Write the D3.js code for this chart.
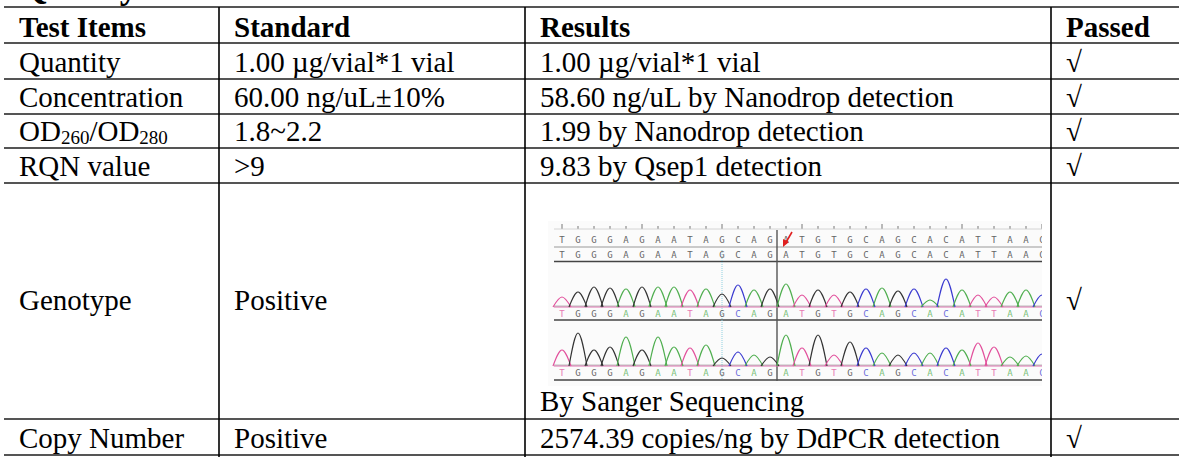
<!DOCTYPE html>
<html>
<head>
<meta charset="utf-8">
<script src="https://cdn.jsdelivr.net/npm/d3@7"></script>
<style>
  body { margin: 0; background: #fff; }
  svg { display: block; font-family: "Liberation Serif", "Times New Roman", serif; }
</style>
</head>
<body>
<svg id="chart" width="1179" height="457"></svg>
<script>
// table content
var headers = ["Test Items", "Standard", "Results", "Passed"];
var items = ["Quantity", "Concentration", "OD260/OD280", "RQN value", "Genotype", "Copy Number"];
var standards = ["1.00 µg/vial*1 vial", "60.00 ng/uL±10%", "1.8~2.2", ">9", "Positive", "Positive"];
var results = ["1.00 µg/vial*1 vial", "58.60 ng/uL by Nanodrop detection", "1.99 by Nanodrop detection",
  "9.83 by Qsep1 detection", "By Sanger Sequencing", "2574.39 copies/ng by DdPCR detection"];
var passed = ["√", "√", "√", "√", "√", "√"];

// sanger chromatogram (bases + peak heights)
var bases = "TGGGAGAATAGCAGATGTGCAGCACATTAAC".split("");
var trace1 = [10, 15, 20, 19, 18, 20, 20, 20, 17, 18, 13, 22, 17, 18, 23, 12, 17, 12, 15, 18, 19, 16, 18, 7, 28, 17, 12, 10, 15, 17, 12];
var trace2 = [16, 33, 16, 19, 29, 16, 29, 19, 18, 21, 8, 14, 11, 9, 31, 18, 31, 11, 24, 18, 13, 11, 13, 13, 18, 16, 23, 19, 9, 10, 12];
var mutationIndex = 14;

// layout
var colEdges = [4, 219, 525, 1051, 1179];
var rowEdges = [7, 43, 79, 114, 148, 183, 419, 455];
var padX = 15;
var fontSize = 29;

var baseColors = { A: "#4fae4f", C: "#3a3ad0", G: "#333333", T: "#e2509c" };

var svg = d3.select("#chart");

// title, cut by the top edge
svg.append("text")
  .attr("x", 19).attr("y", -2)
  .attr("font-size", 37).attr("font-weight", "bold")
  .text("Quality Control");

// cell text helper: digits after "OD" become subscripts
function addText(sel, str) {
  var parts = str.split(/(OD)(\d+)/);
  if (parts.length === 1) { sel.text(str); return; }
  var sub = false;
  parts.forEach(function (p, i) {
    if (p === "") return;
    if (/^\d+$/.test(p) && parts[i - 1] === "OD") {
      sel.append("tspan").attr("font-size", 19).attr("dy", 3).text(p);
      sub = true;
    } else {
      sel.append("tspan").attr("dy", sub ? -3 : 0).text(p);
      sub = false;
    }
  });
}

var columns = [items, standards, results, passed];

// header row
svg.selectAll("text.head")
  .data(headers)
  .join("text")
  .attr("class", "head")
  .attr("x", function (d, i) { return colEdges[i] + padX; })
  .attr("y", rowEdges[1] - 6)
  .attr("font-size", fontSize)
  .attr("font-weight", "bold")
  .text(function (d) { return d; });

// body rows
columns.forEach(function (col, c) {
  col.forEach(function (d, r) {
    var top = rowEdges[r + 1], bottom = rowEdges[r + 2];
    var y = bottom - 7;
    if (items[r] === "Genotype") {
      y = c === 2 ? bottom - 8 : (top + bottom) / 2 + 9;
    }
    var t = svg.append("text")
      .attr("x", colEdges[c] + padX)
      .attr("y", y)
      .attr("font-size", fontSize);
    addText(t, d);
  });
});

// sanger picture inside the genotype result cell
var img = { x0: 548, x1: 1042, y0: 221, y1: 386 };
svg.append("clipPath").attr("id", "imgclip")
  .append("rect")
  .attr("x", img.x0).attr("y", img.y0)
  .attr("width", img.x1 - img.x0).attr("height", img.y1 - img.y0);

var g = svg.append("g").attr("clip-path", "url(#imgclip)");
g.append("rect")
  .attr("x", img.x0).attr("y", img.y0)
  .attr("width", img.x1 - img.x0).attr("height", img.y1 - img.y0)
  .attr("fill", "#fbfbfb");

var xb = d3.scaleLinear().domain([0, bases.length - 1]).range([562, 562 + 16 * (bases.length - 1)]);
var lineX0 = 554;

// ruler ticks
g.selectAll("line.tick")
  .data(bases)
  .join("line")
  .attr("x1", function (d, i) { return xb(i); })
  .attr("x2", function (d, i) { return xb(i); })
  .attr("y1", function (d, i) { return i % 5 === 0 ? 224 : 226; })
  .attr("y2", 229)
  .attr("stroke", "#777").attr("stroke-width", 1);
g.append("line").attr("x1", lineX0).attr("x2", img.x1).attr("y1", 229).attr("y2", 229)
  .attr("stroke", "#ccc").attr("stroke-width", 0.8);

// two reference rows of grey letters
[243, 258].forEach(function (yy) {
  g.selectAll(null)
    .data(bases)
    .join("text")
    .attr("x", function (d, i) { return xb(i); })
    .attr("y", yy)
    .attr("text-anchor", "middle")
    .attr("font-family", "DejaVu Sans Mono, monospace")
    .attr("font-size", 9)
    .attr("fill", "#666")
    .text(function (d) { return d; });
});

// separator lines
[[247, "#999", 1], [261.5, "#444", 1.6], [320, "#444", 1.6], [380, "#444", 1.6]].forEach(function (l) {
  g.append("line").attr("x1", lineX0).attr("x2", img.x1).attr("y1", l[0]).attr("y2", l[0])
    .attr("stroke", l[1]).attr("stroke-width", l[2]);
});

// light blue dotted guide and cursor line
g.append("line").attr("x1", 722).attr("x2", 722).attr("y1", 250).attr("y2", 380)
  .attr("stroke", "#8fd0e0").attr("stroke-width", 1).attr("stroke-dasharray", "1,1");
g.append("line").attr("x1", 777).attr("x2", 777).attr("y1", 230).attr("y2", 381)
  .attr("stroke", "#555").attr("stroke-width", 1.4);

// peak traces
var peak = d3.line().curve(d3.curveMonotoneX);
function drawTrace(values, baseY, lettersY) {
  var y = d3.scaleLinear().domain([0, 30]).range([baseY, baseY - 30]);
  g.append("line").attr("x1", lineX0).attr("x2", img.x1).attr("y1", baseY).attr("y2", baseY)
    .attr("stroke", "#e070b0").attr("stroke-width", 1);
  g.append("line").attr("x1", lineX0).attr("x2", img.x1).attr("y1", baseY - 1).attr("y2", baseY - 1)
    .attr("stroke", "#555").attr("stroke-width", 0.6).attr("opacity", 0.6);
  g.selectAll(null)
    .data(values)
    .join("path")
    .attr("d", function (v, i) {
      var cx = xb(i);
      return peak([[cx - 9, y(0)], [cx, y(v)], [cx + 9, y(0)]]);
    })
    .attr("fill", "none")
    .attr("stroke", function (v, i) { return baseColors[bases[i]]; })
    .attr("stroke-width", 1.2);
  g.selectAll(null)
    .data(bases)
    .join("text")
    .attr("x", function (d, i) { return xb(i); })
    .attr("y", lettersY)
    .attr("text-anchor", "middle")
    .attr("font-family", "DejaVu Sans Mono, monospace")
    .attr("font-size", 9)
    .attr("fill", function (d) { return baseColors[d]; })
    .attr("opacity", 0.75)
    .text(function (d) { return d; });
}
drawTrace(trace1, 307, 317);
drawTrace(trace2, 366, 376);

// red mutation arrow
var ax = xb(mutationIndex);
g.append("line").attr("x1", ax + 6).attr("y1", 232).attr("x2", ax - 1).attr("y2", 244)
  .attr("stroke", "#e02020").attr("stroke-width", 1.6);
g.append("path")
  .attr("d", d3.line()([[ax - 3, 247], [ax - 3, 239], [ax + 3, 242]]))
  .attr("fill", "#e02020");

// grid lines
svg.selectAll("line.h")
  .data(rowEdges)
  .join("line")
  .attr("class", "h")
  .attr("x1", colEdges[0]).attr("x2", colEdges[4])
  .attr("y1", function (d) { return d; }).attr("y2", function (d) { return d; })
  .attr("stroke", "#555").attr("stroke-width", 2);

svg.selectAll("line.v")
  .data(colEdges.slice(1, 4))
  .join("line")
  .attr("class", "v")
  .attr("x1", function (d) { return d; }).attr("x2", function (d) { return d; })
  .attr("y1", rowEdges[0]).attr("y2", 457)
  .attr("stroke", "#000").attr("stroke-width", 1.6);
</script>
</body>
</html>
